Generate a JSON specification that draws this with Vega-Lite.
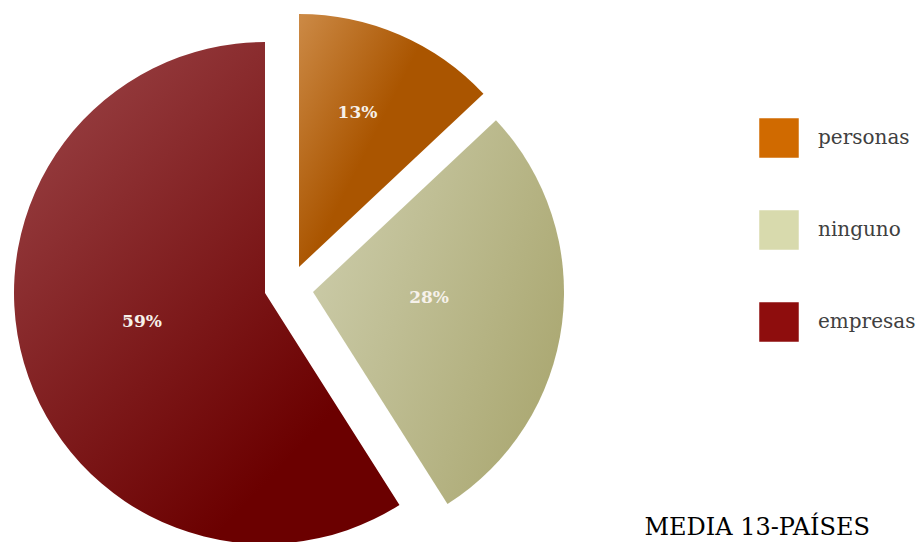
{
  "$schema": "https://vega.github.io/schema/vega-lite/v6.json",
  "width": 578,
  "height": 500,
  "padding": 0,
  "background": "white",
  "config": {"view": {"stroke": null}},
  "title": {
    "text": "MEDIA 13-PAÍSES",
    "orient": "bottom",
    "anchor": "end",
    "frame": "group",
    "dx": 292,
    "offset": -28,
    "font": "DejaVu Serif",
    "fontSize": 24,
    "fontWeight": "normal",
    "color": "#000000"
  },
  "data": {
    "values": [
      {"category": "personas", "value": 13, "label": "13%", "order": 1},
      {"category": "ninguno", "value": 28, "label": "28%", "order": 2},
      {"category": "empresas", "value": 59, "label": "59%", "order": 3}
    ]
  },
  "encoding": {
    "theta": {"field": "value", "type": "quantitative", "stack": true},
    "order": {"field": "order", "type": "quantitative"}
  },
  "layer": [
    {
      "mark": {
        "type": "arc", "radius": 253, "xOffset": 10, "yOffset": 17,
        "fill": {"gradient": "linear", "x1": 0, "y1": 0, "x2": 0.5, "y2": 0.35,
          "stops": [{"offset": 0, "color": "#cc8a46"}, {"offset": 1, "color": "#aa5500"}]}
      },
      "encoding": {"opacity": {"condition": {"test": "datum.category === 'personas'", "value": 1}, "value": 0}}
    },
    {
      "mark": {
        "type": "arc", "radius": 251, "xOffset": 24, "yOffset": 42,
        "fill": {"gradient": "linear", "x1": 0, "y1": 0.3, "x2": 1, "y2": 0.8,
          "stops": [{"offset": 0, "color": "#cbcba8"}, {"offset": 1, "color": "#a9a66f"}]}
      },
      "encoding": {"opacity": {"condition": {"test": "datum.category === 'ninguno'", "value": 1}, "value": 0}}
    },
    {
      "mark": {
        "type": "arc", "radius": 251, "xOffset": -24, "yOffset": 43,
        "fill": {"gradient": "linear", "x1": 0.1, "y1": 0, "x2": 0.75, "y2": 0.8,
          "stops": [{"offset": 0, "color": "#9a4346"}, {"offset": 1, "color": "#6b0000"}]}
      },
      "encoding": {"opacity": {"condition": {"test": "datum.category === 'empresas'", "value": 1}, "value": 0}}
    },
    {
      "mark": {"type": "arc", "radius": 0},
      "encoding": {
        "color": {
          "field": "category", "type": "nominal",
          "scale": {"domain": ["personas", "ninguno", "empresas"], "range": ["#d06a00", "#d8daad", "#8e0d0d"]},
          "legend": {
            "title": null, "orient": "none", "legendX": 759, "legendY": 118,
            "symbolType": "square", "symbolSize": 1560, "symbolStrokeWidth": 0,
            "rowPadding": 52, "labelOffset": 19, "padding": 0,
            "labelFont": "DejaVu Serif", "labelFontSize": 20, "labelColor": "#404040"
          }
        }
      }
    },
    {
      "mark": {"type": "text", "radius": 165, "dx": 3, "dy": 14, "font": "DejaVu Serif", "fontSize": 17, "fontWeight": 600, "fill": "#f6f1ea"},
      "encoding": {"text": {"condition": {"test": "datum.category === 'personas'", "field": "label"}, "value": ""}}
    },
    {
      "mark": {"type": "text", "radius": 117, "dx": 24, "dy": 33, "font": "DejaVu Serif", "fontSize": 17, "fontWeight": 600, "fill": "#f6f1ea"},
      "encoding": {"text": {"condition": {"test": "datum.category === 'ninguno'", "field": "label"}, "value": ""}}
    },
    {
      "mark": {"type": "text", "radius": 126, "dx": -26, "dy": 37, "font": "DejaVu Serif", "fontSize": 17, "fontWeight": 600, "fill": "#f6f1ea"},
      "encoding": {"text": {"condition": {"test": "datum.category === 'empresas'", "field": "label"}, "value": ""}}
    }
  ]
}
